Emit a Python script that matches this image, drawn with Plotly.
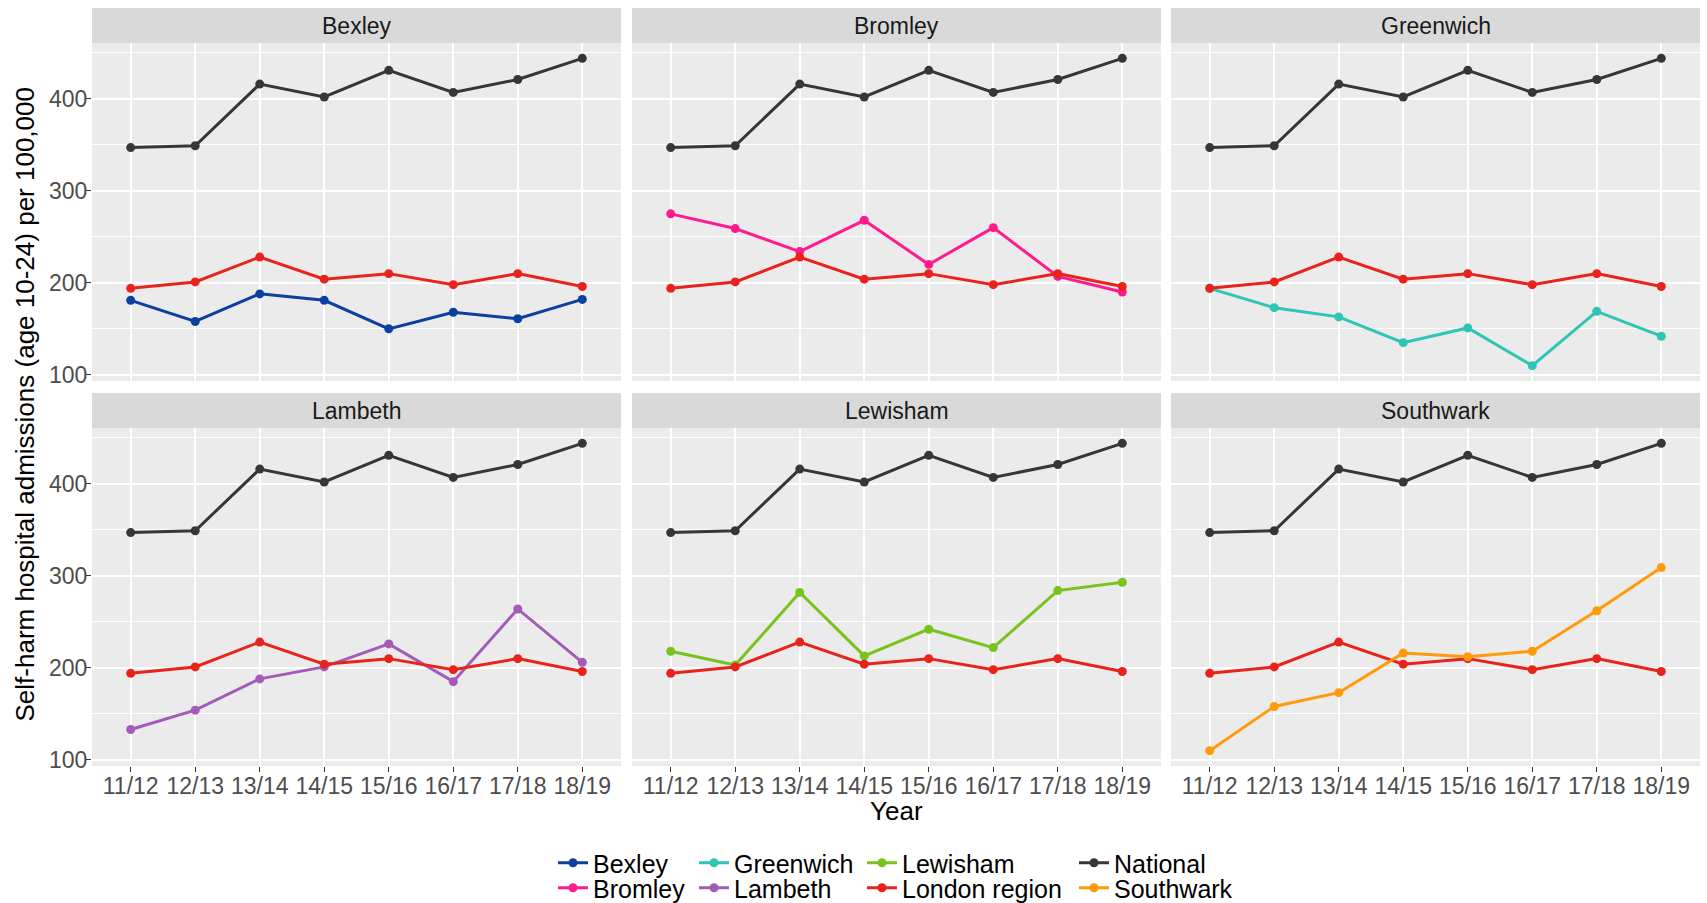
import plotly.graph_objects as go

# ---------------- data ----------------
years = ["11/12", "12/13", "13/14", "14/15", "15/16", "16/17", "17/18", "18/19"]
national = [347, 349, 416, 402, 431, 407, 421, 444]
london_region = [194, 201, 228, 204, 210, 198, 210, 196]
bexley = [181, 158, 188, 181, 150, 168, 161, 182]
bromley = [275, 259, 234, 268, 220, 260, 207, 190]
greenwich = [194, 173, 163, 135, 151, 110, 169, 142]
lambeth = [133, 154, 188, 201, 226, 185, 264, 206]
lewisham = [218, 203, 282, 213, 242, 222, 284, 293]
southwark = [110, 158, 173, 216, 212, 218, 262, 309]

boroughs = ["Bexley", "Bromley", "Greenwich", "Lambeth", "Lewisham", "Southwark"]
borough_values = [bexley, bromley, greenwich, lambeth, lewisham, southwark]
y_ticks = [100, 200, 300, 400]
y_minor = [150, 250, 350, 450]

colors = {
    "Bexley": "#0b3fa0",
    "Bromley": "#ff1b8d",
    "Greenwich": "#2ec4b6",
    "Lambeth": "#a25cb7",
    "Lewisham": "#78c31c",
    "London region": "#e8231b",
    "National": "#363636",
    "Southwark": "#ff9a0a",
}

# legend layout (column, row) as in the reference
legend_pos = {
    "Bexley": (0, 0), "Bromley": (0, 1),
    "Greenwich": (1, 0), "Lambeth": (1, 1),
    "Lewisham": (2, 0), "London region": (2, 1),
    "National": (3, 0), "Southwark": (3, 1),
}
series_order = ["Bexley", "Bromley", "Greenwich", "Lambeth", "Lewisham",
                "London region", "National", "Southwark"]

# ---------------- geometry (pixels) ----------------
W, H = 1707, 903
FONT = "Liberation Sans, Arial, sans-serif"
col_px = [(92, 621), (632, 1161), (1171, 1700)]
row_px = [(43, 381), (428, 766)]      # panel top, bottom
strip_h = 35
legend_text_x = [594, 735, 903, 1115]
legend_row_y = [863, 888]


def px_x(p):
    return p / W


def px_y(p):
    return 1 - p / H


allv = national + london_region + sum(borough_values, [])
lo, hi = min(allv), max(allv)
pad = (hi - lo) * 0.05
y_range = [lo - pad, hi + pad]

fig = go.Figure()
layout = {}
shapes = []
annotations = []
shown = set()
legend_index = {name: i + 1 for i, name in enumerate(series_order)}

for i, (bname, bvals) in enumerate(zip(boroughs, borough_values)):
    r, c = divmod(i, 3)
    k = i + 1
    xa = "x" if k == 1 else f"x{k}"
    ya = "y" if k == 1 else f"y{k}"
    xkey = "xaxis" if k == 1 else f"xaxis{k}"
    ykey = "yaxis" if k == 1 else f"yaxis{k}"
    x0, x1 = col_px[c]
    top, bot = row_px[r]

    layout[xkey] = dict(
        domain=[px_x(x0), px_x(x1)], anchor=ya, type="category",
        categoryorder="array", categoryarray=years, range=[-0.6, len(years) - 0.4],
        showgrid=True, gridcolor="white", gridwidth=1.8, zeroline=False,
        showticklabels=(r == 1), ticks="outside" if r == 1 else "",
        ticklen=5, tickwidth=1.2, tickcolor="#333333",
        ticklabelstandoff=-6,
        tickfont=dict(family=FONT, size=23, color="#4d4d4d"),
        showline=False, fixedrange=True,
    )
    layout[ykey] = dict(
        domain=[px_y(bot), px_y(top)], anchor=xa, range=y_range,
        tickmode="array", tickvals=y_ticks,
        minor=dict(tickvals=y_minor, showgrid=True, gridcolor="white", gridwidth=0.8),
        showgrid=True, gridcolor="white", gridwidth=1.8, zeroline=False,
        showticklabels=(c == 0), ticks="outside" if c == 0 else "",
        ticklen=5, tickwidth=1.2, tickcolor="#333333",
        ticklabelstandoff=-6,
        tickfont=dict(family=FONT, size=23, color="#4d4d4d"),
        showline=False, fixedrange=True,
    )

    # panel background
    shapes.append(dict(type="rect", xref="paper", yref="paper", layer="below",
                       x0=px_x(x0), x1=px_x(x1), y0=px_y(bot), y1=px_y(top),
                       fillcolor="#ebebeb", line=dict(width=0)))
    # strip
    shapes.append(dict(type="rect", xref="paper", yref="paper", layer="below",
                       x0=px_x(x0), x1=px_x(x1), y0=px_y(top), y1=px_y(top - strip_h),
                       fillcolor="#d9d9d9", line=dict(width=0)))
    annotations.append(dict(text=bname, xref="paper", yref="paper",
                            x=px_x((x0 + x1) / 2), y=px_y(top - strip_h / 2),
                            xanchor="center", yanchor="middle", showarrow=False,
                            font=dict(family=FONT, size=23, color="#1a1a1a")))

    panel_series = {bname: bvals, "London region": london_region, "National": national}
    for name in series_order:
        if name not in panel_series:
            continue
        li = legend_index[name]
        fig.add_trace(go.Scatter(
            x=years, y=panel_series[name], mode="lines+markers", name=name,
            line=dict(color=colors[name], width=3),
            marker=dict(color=colors[name], size=9),
            xaxis=xa, yaxis=ya,
            showlegend=name not in shown,
            legend="legend" if li == 1 else f"legend{li}",
            hoverinfo="x+y+name",
        ))
        shown.add(name)

# legends: one per entry, placed like the reference's 4x2 grid
for name in series_order:
    li = legend_index[name]
    c, r = legend_pos[name]
    key = "legend" if li == 1 else f"legend{li}"
    layout[key] = dict(
        x=px_x(legend_text_x[c] - 41), y=px_y(legend_row_y[r]),
        xanchor="left", yanchor="middle", orientation="v",
        bgcolor="rgba(0,0,0,0)", borderwidth=0,
        font=dict(family=FONT, size=25, color="#000000"),
        itemwidth=30,
    )

# axis titles
annotations.append(dict(text="Year", xref="paper", yref="paper",
                        x=px_x((col_px[0][0] + col_px[2][1]) / 2), y=px_y(811),
                        xanchor="center", yanchor="middle", showarrow=False,
                        font=dict(family=FONT, size=26, color="#000000")))
annotations.append(dict(text="Self-harm hospital admissions (age 10-24) per 100,000",
                        xref="paper", yref="paper", textangle=-90,
                        x=px_x(24), y=px_y((row_px[0][0] + row_px[1][1]) / 2),
                        xanchor="center", yanchor="middle", showarrow=False,
                        font=dict(family=FONT, size=26, color="#000000")))

fig.update_layout(
    width=W, height=H,
    margin=dict(l=0, r=0, t=0, b=0, autoexpand=False),
    paper_bgcolor="white", plot_bgcolor="rgba(0,0,0,0)",
    shapes=shapes, annotations=annotations,
    font=dict(family=FONT),
    **layout,
)

fig.write_html(
    "out.html",
    config={"displayModeBar": False},
    post_script="document.body.style.margin='0';document.body.style.overflow='hidden';",
)
